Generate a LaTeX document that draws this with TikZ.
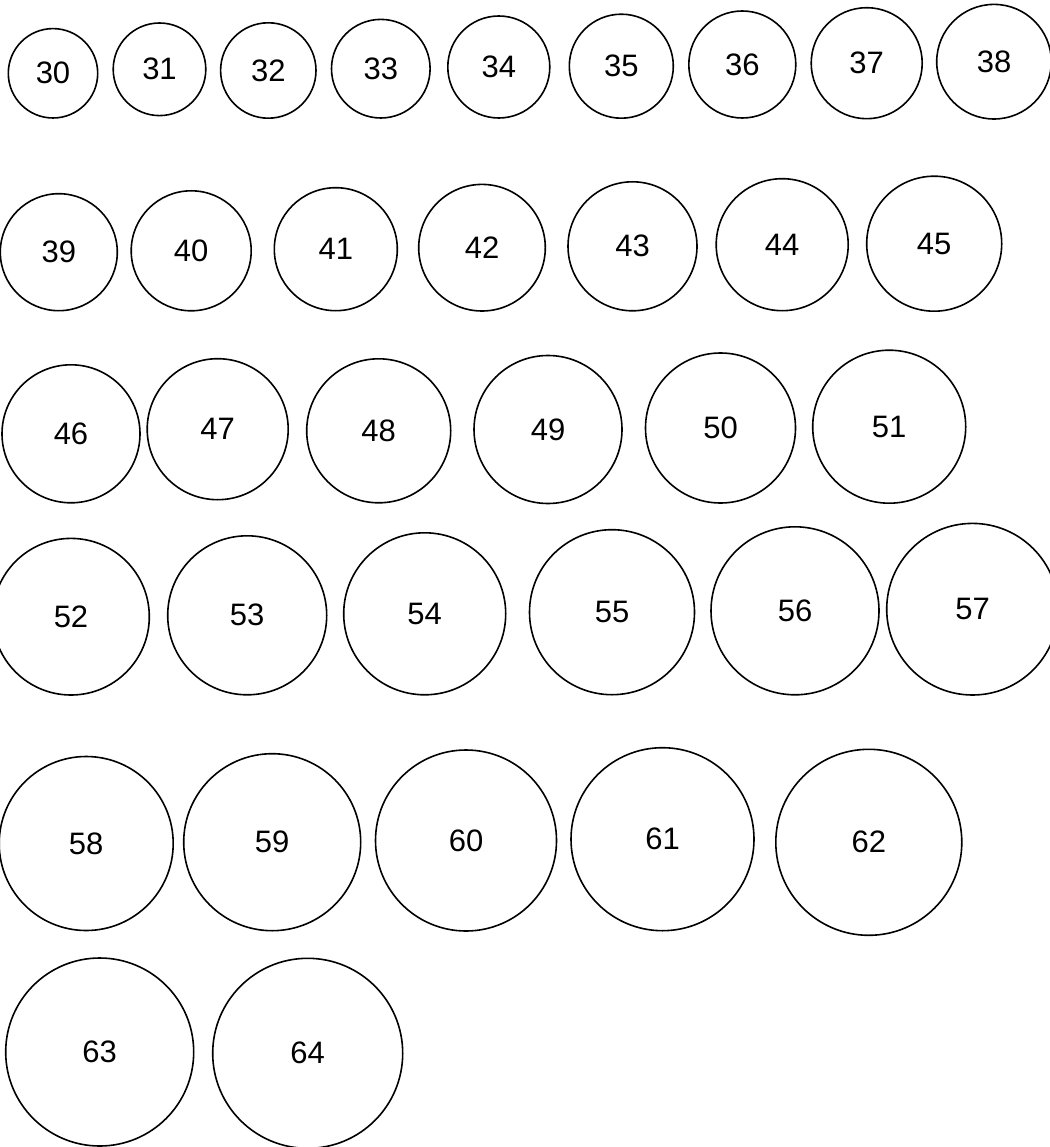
\documentclass[tikz,border=0pt]{standalone}
\usepackage{fontspec}
\setmainfont{Liberation Sans}
\usepackage{tikz}

\begin{document}
\begin{tikzpicture}[x=1pt,y=-1pt]
  \useasboundingbox (0,0) rectangle (1049,1147);
  \tikzset{ring/.style={draw,circle,line width=1.6pt,inner sep=0pt,font=\fontsize{31}{37}\selectfont}}
  \foreach \n/\x/\y/\r in {30/53/73.3/44.7, 31/159.5/69.3/46.3, 32/268.3/70.5/47.7,
      33/380.8/68.7/49.3, 34/498.8/67/51, 35/621.3/66.2/52, 36/742.3/64.5/53.5,
      37/866.7/63.2/55.5, 38/994/61.7/57.3,
      39/58.8/252.2/58.5, 40/191.2/250.8/60, 41/335.8/249.2/61.5, 42/482/247.7/63.3,
      43/632.5/246.3/64.5, 44/782.2/244.7/66, 45/934.2/243.7/67.5,
      46/71/433.8/69, 47/217.7/429.2/70.5, 48/378.7/430.8/72, 49/548/429.5/74,
      50/720.5/428/75, 51/889.2/426.7/76.5,
      52/71/616.7/78.3, 53/247.2/615.3/79.5, 54/424.7/613.8/81, 55/612/612.2/82.5,
      56/795/610.8/84, 57/972.5/609.2/85.8,
      58/86.2/843.5/87, 59/272.2/842.2/88.5, 60/466/840.5/90.5, 61/662.5/839.2/91.5,
      62/868.8/842.3/93,
      63/99.7/1052/94, 64/307.7/1053.3/95}{
    \node[ring,minimum size=2*\r pt] (c\n) at (\x,\y) {\n};
  }
\end{tikzpicture}
\end{document}
